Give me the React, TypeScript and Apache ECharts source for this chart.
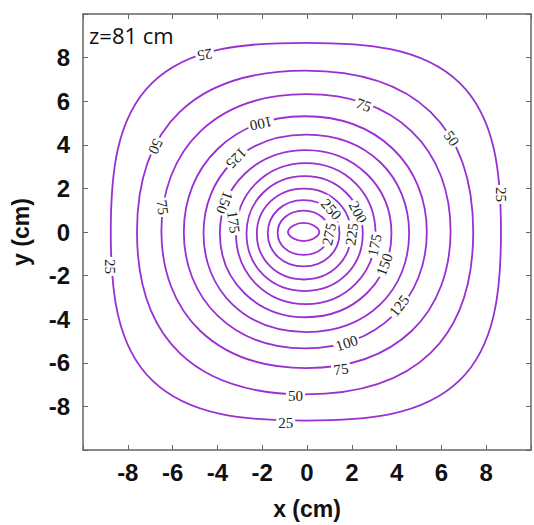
import React, { useEffect, useRef } from "react";
import * as echarts from "echarts";

// contour levels (innermost unlabeled ring = 300)
const levels = [25, 50, 75, 100, 125, 150, 175, 200, 225, 250, 275, 300];

// contour loops: points E, NE, N, NW, W, SW, S, SE (data units, cm)
const c25 = [[8.66, 0.0], [6.81, 6.84], [-0.05, 8.68], [-6.91, 6.84], [-8.76, 0.0], [-6.91, -6.81], [-0.05, -8.65], [6.81, -6.81]];
const c50 = [[7.42, 0.0], [5.51, 5.51], [-0.08, 7.4], [-5.68, 5.51], [-7.59, 0.0], [-5.68, -5.56], [-0.08, -7.45], [5.51, -5.56]];
const c75 = [[6.41, 0.04], [4.67, 4.62], [-0.05, 6.32], [-4.76, 4.62], [-6.5, 0.04], [-4.76, -4.54], [-0.05, -6.24], [4.67, -4.54]];
const c100 = [[5.35, 0.0], [3.83, 3.82], [-0.08, 5.31], [-3.98, 3.82], [-5.5, 0.0], [-3.98, -3.85], [-0.08, -5.34], [3.83, -3.85]];
const c125 = [[4.56, -0.06], [3.27, 3.2], [-0.03, 4.47], [-3.33, 3.2], [-4.62, -0.06], [-3.33, -3.32], [-0.03, -4.59], [3.27, -3.32]];
const c150 = [[3.77, -0.07], [2.67, 2.66], [-0.06, 3.76], [-2.79, 2.66], [-3.89, -0.07], [-2.79, -2.81], [-0.06, -3.91], [2.67, -2.81]];
const c175 = [[3.06, -0.07], [2.17, 2.23], [-0.05, 3.16], [-2.28, 2.23], [-3.17, -0.07], [-2.28, -2.38], [-0.05, -3.31], [2.17, -2.38]];
const c200 = [[2.49, -0.07], [1.75, 1.8], [-0.1, 2.56], [-1.96, 1.8], [-2.7, -0.07], [-1.96, -1.96], [-0.1, -2.71], [1.75, -1.96]];
const c225 = [[1.96, -0.09], [1.36, 1.39], [-0.14, 1.99], [-1.64, 1.39], [-2.24, -0.09], [-1.64, -1.58], [-0.14, -2.18], [1.36, -1.58]];
const c250 = [[1.45, -0.06], [0.99, 1.02], [-0.15, 1.46], [-1.3, 1.02], [-1.75, -0.06], [-1.3, -1.14], [-0.15, -1.58], [0.99, -1.14]];
const c275 = [[1.0, -0.03], [0.67, 0.69], [-0.15, 0.98], [-0.98, 0.69], [-1.31, -0.03], [-0.98, -0.76], [-0.15, -1.05], [0.67, -0.76]];
const c300 = [[0.55, 0.0], [0.3, 0.3], [-0.15, 0.42], [-0.6, 0.3], [-0.85, 0.0], [-0.6, -0.3], [-0.15, -0.42], [0.3, -0.3]];
const contours = [c25, c50, c75, c100, c125, c150, c175, c200, c225, c250, c275, c300];

// inline contour labels: level, position (cm), angle along the line (deg)
const contourLabels = [
  { level: 25, x: -4.56, y: 8.13, angle: 190 },
  { level: 25, x: 8.66, y: 1.72, angle: -90 },
  { level: 25, x: -8.79, y: -1.58, angle: -90 },
  { level: 25, x: -0.95, y: -8.78, angle: 0 },
  { level: 50, x: 6.45, y: 4.29, angle: -55 },
  { level: 50, x: -6.76, y: 3.93, angle: 245 },
  { level: 50, x: -0.51, y: -7.5, angle: 0 },
  { level: 75, x: 2.53, y: 5.82, angle: -20 },
  { level: 75, x: -6.45, y: 1.13, angle: -82 },
  { level: 75, x: 1.52, y: -6.3, angle: 8 },
  { level: 100, x: -2.05, y: 4.97, angle: 192 },
  { level: 100, x: 1.77, y: -5.1, angle: 18 },
  { level: 125, x: -3.15, y: 3.39, angle: 225 },
  { level: 125, x: 4.12, y: -3.39, angle: 52 },
  { level: 150, x: -3.68, y: 1.35, angle: 250 },
  { level: 150, x: 3.46, y: -1.49, angle: 70 },
  { level: 175, x: -3.28, y: 0.45, angle: -82 },
  { level: 175, x: 3.02, y: -0.6, angle: 78 },
  { level: 200, x: 2.27, y: 0.9, angle: -62 },
  { level: 225, x: 2.0, y: -0.1, angle: 82 },
  { level: 250, x: 1.08, y: 1.04, angle: -48 },
  { level: 275, x: 0.99, y: -0.1, angle: 78 },
];

const annotation = "z=81 cm";
const xName = "x (cm)";
const yName = "y (cm)";

const LINE = "#9a2fd2";
const FRAME = "#666";

export default function App() {
  const ref = useRef<HTMLDivElement>(null);
  useEffect(() => {
    const chart = echarts.init(ref.current!, null, { renderer: "svg" });
    const tickFont = { fontFamily: "Liberation Sans", fontWeight: "bold" as const, fontSize: 24, color: "#111" };
    const nameFont = { fontFamily: "Liberation Sans", fontWeight: "bold" as const, fontSize: 23, color: "#111" };
    const hideEnds = (v: number) => (Math.abs(v) >= 10 ? "" : String(v));
    const frameAxis = (position: string) => ({
      type: "value", min: -10, max: 10, interval: 2, position,
      axisLine: { onZero: false, lineStyle: { color: FRAME, width: 1.5 } },
      axisTick: { inside: true, length: 5, lineStyle: { color: FRAME } },
      splitLine: { show: false },
    });
    chart.setOption({
      animation: false,
      backgroundColor: "#fff",
      grid: { left: 83, top: 14, width: 454, height: 443, containLabel: false },
      xAxis: [
        {
          ...frameAxis("bottom"),
          name: xName, nameLocation: "middle", nameGap: 47, nameTextStyle: nameFont,
          axisLabel: { ...tickFont, margin: 10, formatter: hideEnds },
        },
        { ...frameAxis("top"), axisLabel: { show: false } },
      ],
      yAxis: [
        {
          ...frameAxis("left"),
          name: yName, nameLocation: "middle", nameGap: 51, nameRotate: 90, nameTextStyle: nameFont,
          axisLabel: { ...tickFont, margin: 13, formatter: hideEnds },
        },
        { ...frameAxis("right"), axisLabel: { show: false } },
      ],
      graphic: [
        {
          type: "text", left: 89, top: 24,
          style: { text: annotation, font: '22px "Open Sans"', fill: "#111" },
        },
      ],
      series: [
        {
          type: "custom",
          name: "contours",
          coordinateSystem: "cartesian2d",
          data: levels.map((lv, i) => [i, lv]),
          encode: { x: -1, y: -1 },
          renderItem: (params: any, api: any) => {
            const idx = api.value(0);
            const pts = contours[idx].map((p) => api.coord(p));
            return {
              type: "polygon",
              shape: { points: pts, smooth: 0.38 },
              style: { fill: "none", stroke: LINE, lineWidth: 1.8 },
            };
          },
          z: 2,
        },
        {
          type: "custom",
          name: "labels",
          coordinateSystem: "cartesian2d",
          data: contourLabels.map((l) => [l.x, l.y, l.level, l.angle]),
          renderItem: (params: any, api: any) => {
            const p = api.coord([api.value(0), api.value(1)]);
            return {
              type: "text",
              x: p[0],
              y: p[1],
              rotation: (api.value(3) * Math.PI) / 180,
              style: {
                text: String(api.value(2)),
                font: '15px "Liberation Serif"',
                fill: "#222",
                align: "center",
                verticalAlign: "middle",
                backgroundColor: "#fff",
                padding: [0, 2],
              },
            };
          },
          z: 3,
        },
      ],
    });
    return () => chart.dispose();
  }, []);
  return <div ref={ref} style={{ position: "absolute", left: 0, top: 0, width: 534, height: 525 }} />;
}
